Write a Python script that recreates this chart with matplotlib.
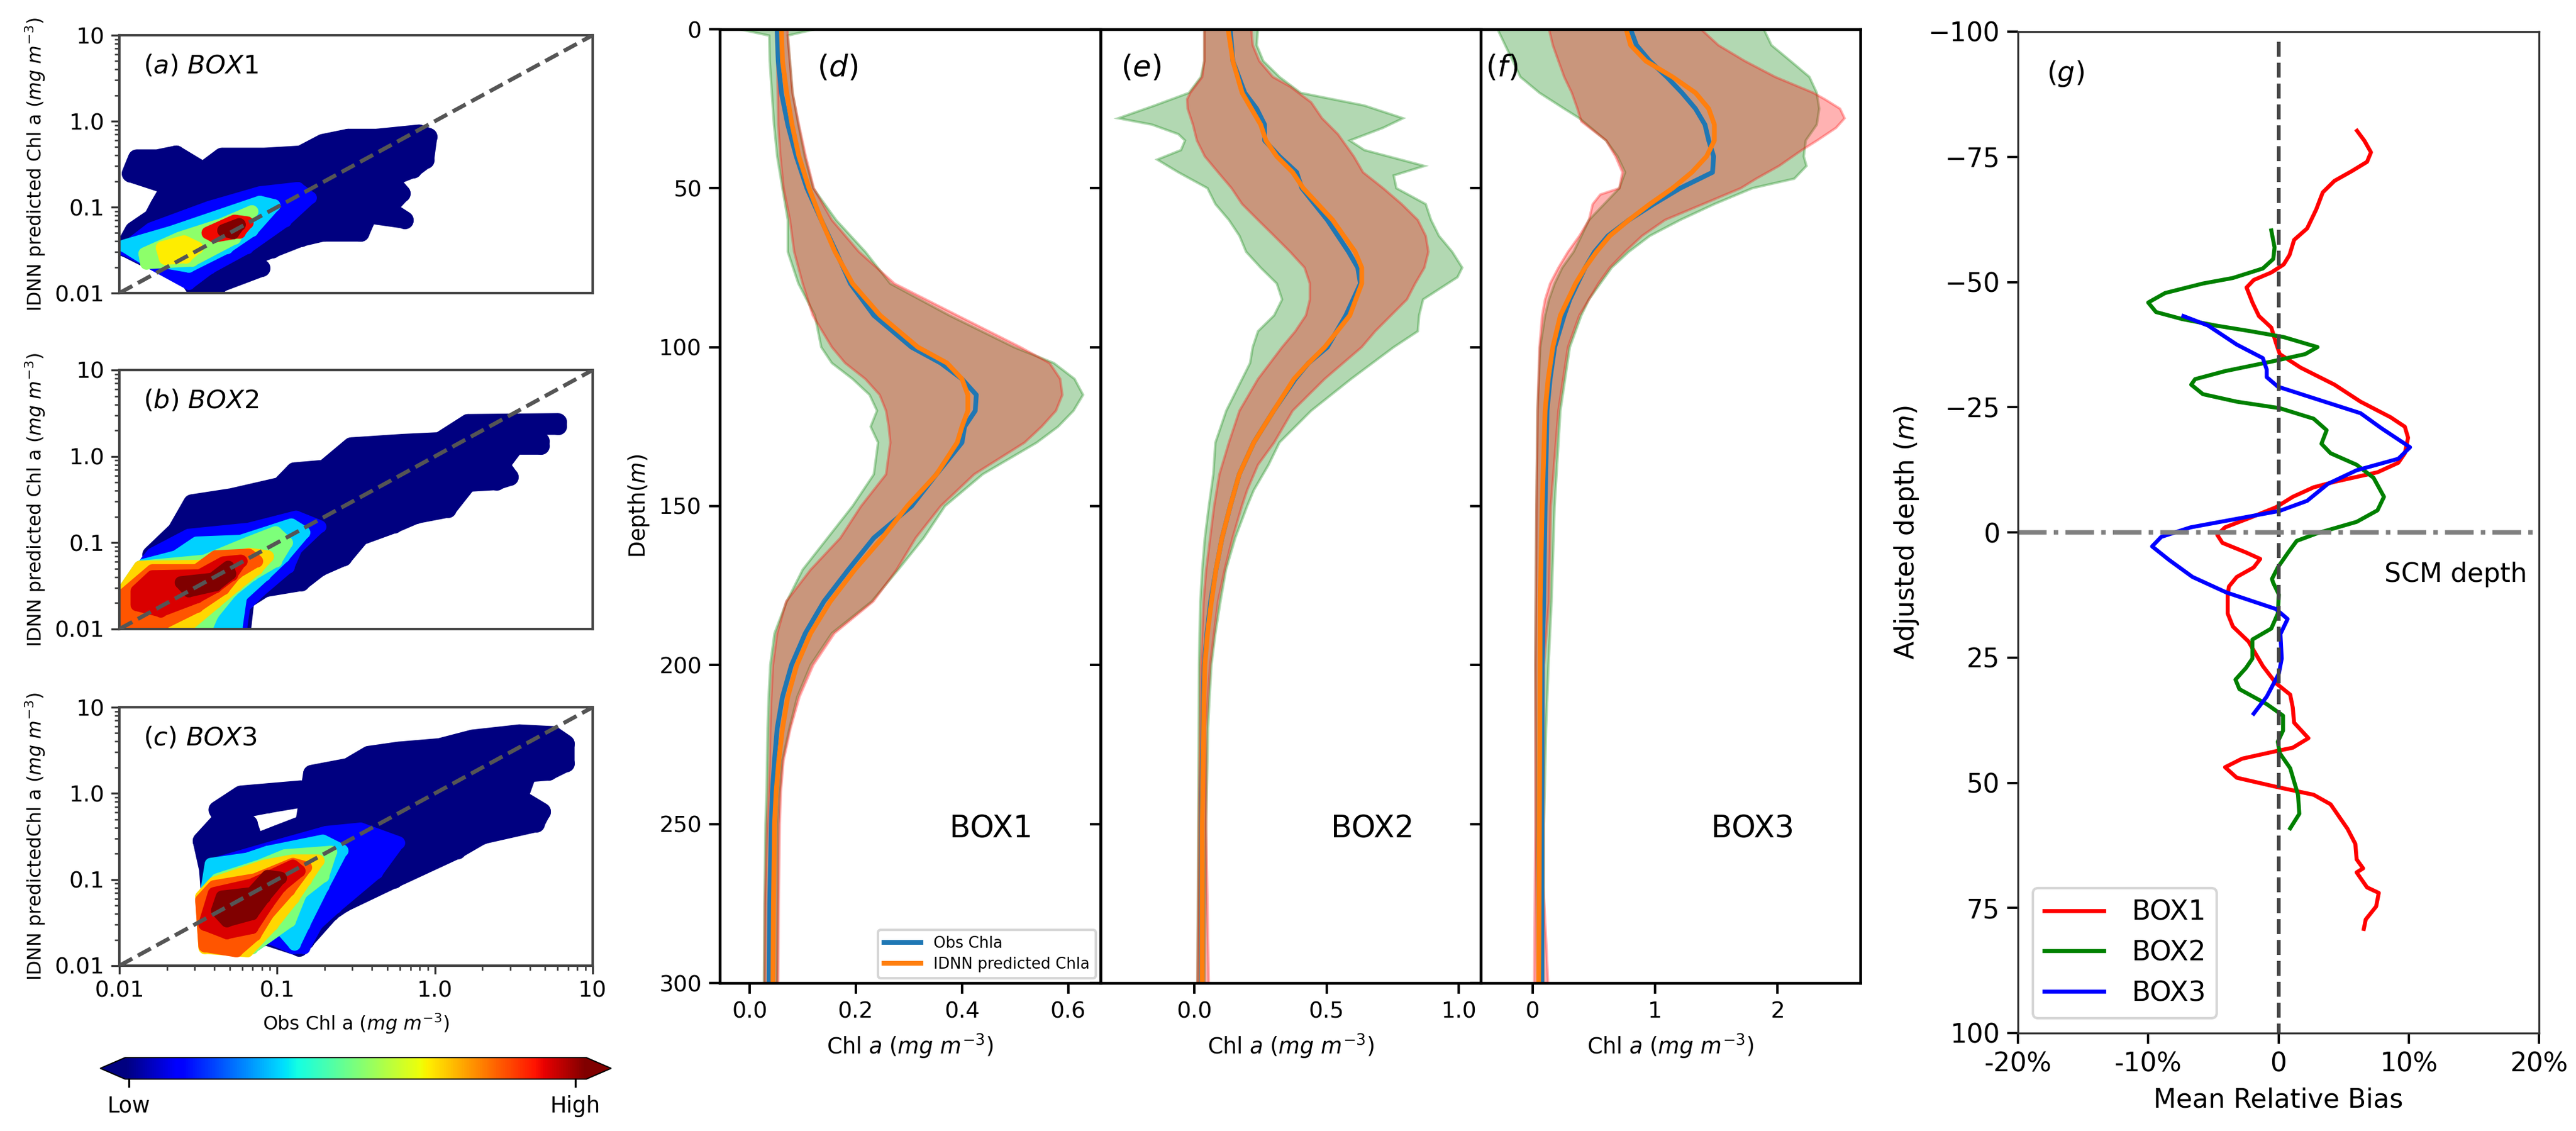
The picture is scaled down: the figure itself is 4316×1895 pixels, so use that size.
import numpy as np
import matplotlib
matplotlib.use('Agg')
import matplotlib.pyplot as plt
from matplotlib.cm import ScalarMappable
from matplotlib.colors import Normalize
from matplotlib.ticker import FixedLocator, FixedFormatter, NullFormatter

W, H = 4316, 1895

# --------------- density scatter, log10(Chl) --------------- #
# every ring is a group of points with one density level (0 low .. 1 high)
box1_levels = [0, 0, 0.12, 0.33, 0.52, 0.66, 0.9, 1.0]
box1_log_obs = [
    [-1.93, -1.89, -1.76, -1.64, -1.50, -1.52, -1.59, -1.35, -1.08, -0.85, -0.71, -0.55, -0.37, -0.10, -0.04, -0.06,
     -0.14, -0.29, -0.21, -0.30, -0.19, -0.42, -0.47, -0.71, -0.85, -1.03, -1.19, -1.48, -1.83, -1.97, -1.91, -1.79,
     -1.75, -1.68],
    [-1.10, -1.36, -1.40, -1.51, -1.55, -1.43],
    [-1.97, -1.80, -1.43, -1.11, -0.87, -0.79, -0.95, -1.19, -1.43, -1.56, -1.85],
    [-1.97, -1.67, -1.43, -1.11, -1.02, -1.16, -1.32, -1.56, -1.84],
    [-1.84, -1.62, -1.35, -1.16, -1.27, -1.54, -1.83],
    [-1.73, -1.59, -1.51, -1.58, -1.71],
    [-1.44, -1.27, -1.19, -1.24, -1.40],
    [-1.34, -1.24, -1.28],
]
box1_log_pred = [
    [-0.61, -0.43, -0.43, -0.385, -0.54, -0.65, -0.74, -0.41, -0.41, -0.385, -0.25, -0.19, -0.19, -0.14, -0.18, -0.45,
     -0.56, -0.67, -0.84, -1.02, -1.15, -1.09, -1.30, -1.30, -1.36, -1.49, -1.60, -1.76, -1.60, -1.47, -1.27, -1.12,
     -0.98, -0.76],
    [-1.71, -1.89, -1.98, -1.98, -1.87, -1.80],
    [-1.49, -1.25, -1.00, -0.83, -0.78, -0.89, -1.16, -1.47, -1.71, -1.89, -1.60],
    [-1.45, -1.29, -1.14, -0.94, -0.98, -1.27, -1.47, -1.69, -1.60],
    [-1.54, -1.36, -1.20, -1.05, -1.36, -1.62, -1.65],
    [-1.47, -1.40, -1.47, -1.58, -1.60],
    [-1.30, -1.16, -1.18, -1.29, -1.34],
    [-1.27, -1.20, -1.30],
]

box2_levels = [0, 0.12, 0.33, 0.5, 0.68, 0.82, 0.92, 1.0]
box2_log_obs = [
    [-1.80, -1.64, -1.54, -1.29, -0.98, -0.89, -0.70, -0.53, -0.20, 0.03, 0.21, 0.78, 0.78, 0.46, 0.67, 0.67, 0.51,
     0.42, 0.475, 0.39, 0.21, 0.08, -0.12, -0.26, -0.47, -0.58, -0.73, -0.85, -1.08, -1.20, -1.22, -1.9, -1.9, -1.78],
    [-1.79, -1.56, -1.18, -0.88, -0.73, -0.88, -0.93, -1.11, -1.21, -1.23, -1.9, -1.9, -1.83],
    [-1.64, -1.51, -1.23, -0.91, -0.83, -0.96, -1.08, -1.23, -1.26, -1.95, -1.95, -1.85],
    [-1.46, -1.18, -1.01, -0.94, -1.01, -1.16, -1.29, -1.41, -1.45, -2.0, -2.0, -1.87],
    [-1.87, -1.49, -1.18, -1.06, -1.13, -1.26, -1.39, -1.56, -2.0, -2.0],
    [-1.79, -1.51, -1.39, -1.18, -1.13, -1.26, -1.34, -1.51, -1.72, -1.97, -1.97],
    [-1.79, -1.49, -1.34, -1.23, -1.29, -1.39, -1.51, -1.74, -1.89, -1.89],
    [-1.61, -1.41, -1.31, -1.30, -1.39, -1.56],
]
box2_log_pred = [
    [-1.14, -0.86, -0.54, -0.47, -0.34, -0.17, -0.14, 0.12, 0.16, 0.18, 0.39, 0.40, 0.35, 0.35, 0.18, 0.12, 0.12,
     -0.10, -0.24, -0.29, -0.31, -0.61, -0.68, -0.79, -0.93, -1.17, -1.29, -1.46, -1.53, -1.67, -2.0, -2.0, -1.50, -1.20],
    [-1.13, -0.91, -0.84, -0.70, -0.81, -1.07, -1.28, -1.56, -1.74, -2.0, -2.0, -1.45, -1.22],
    [-1.16, -1.0, -0.98, -0.79, -0.88, -1.16, -1.37, -1.62, -2.0, -2.0, -1.60, -1.26],
    [-1.21, -1.0, -0.88, -1.0, -1.21, -1.37, -1.56, -1.83, -2.0, -2.0, -1.63, -1.28],
    [-1.28, -1.27, -1.13, -1.16, -1.30, -1.49, -1.69, -1.95, -2.0, -1.63],
    [-1.32, -1.32, -1.16, -1.14, -1.21, -1.35, -1.53, -1.74, -1.93, -1.93, -1.60],
    [-1.39, -1.38, -1.23, -1.21, -1.37, -1.51, -1.63, -1.79, -1.72, -1.56],
    [-1.46, -1.42, -1.28, -1.36, -1.49, -1.56],
]

box3_levels = [0, 0, 0.12, 0.33, 0.5, 0.68, 0.82, 0.92, 1.0]
box3_log_obs = [
    [-1.48, -1.35, -1.18, -1.14, -1.0, -0.83, -0.78, -0.55, -0.42, -0.23, 0.03, 0.24, 0.535, 0.75, 0.83, 0.83, 0.72,
     0.59, 0.535, 0.68, 0.64, 0.30, 0.14, -0.26, -0.58, -0.66, -0.82, -0.86, -1.06, -1.40, -1.42, -1.44],
    [-1.38, -1.23, -0.85, -0.80, -1.06, -1.23, -1.35],
    [-1.40, -1.06, -0.69, -0.47, -0.23, -0.37, -0.63, -0.75, -0.83, -0.90, -1.06, -1.38, -1.42],
    [-1.42, -1.19, -1.06, -0.71, -0.59, -0.71, -0.83, -0.89, -0.98, -1.16, -1.42, -1.46],
    [-1.38, -1.11, -0.95, -0.66, -0.71, -0.85, -0.92, -1.16, -1.44, -1.48],
    [-1.40, -1.08, -0.90, -0.74, -0.82, -0.90, -1.03, -1.19, -1.46, -1.48],
    [-1.40, -1.14, -0.90, -0.82, -0.925, -1.06, -1.14, -1.26, -1.46, -1.48],
    [-1.40, -1.16, -0.90, -0.86, -0.98, -1.06, -1.16, -1.32, -1.46],
    [-1.35, -1.16, -1.06, -0.98, -1.08, -1.16, -1.32, -1.38],
]
box3_log_pred = [
    [-0.55, -0.29, -0.35, -0.57, -0.47, -0.35, 0.23, 0.31, 0.45, 0.50, 0.54, 0.64, 0.70, 0.68, 0.58, 0.35, 0.25,
     0.23, -0.05, -0.21, -0.35, -0.49, -0.66, -1.0, -1.28, -1.38, -1.71, -1.79, -1.67, -1.70, -1.36, -0.88],
    [-0.19, -0.01, 0.05, -0.05, -0.13, -0.19, -0.29],
    [-0.82, -0.64, -0.45, -0.41, -0.57, -0.92, -1.32, -1.52, -1.79, -1.79, -1.67, -1.72, -1.28],
    [-0.82, -0.76, -0.68, -0.55, -0.66, -1.08, -1.52, -1.75, -1.56, -1.79, -1.75, -1.28],
    [-1.0, -0.84, -0.72, -0.68, -0.96, -1.16, -1.48, -1.79, -1.77, -1.24],
    [-1.04, -0.84, -0.78, -0.78, -1.0, -1.22, -1.52, -1.83, -1.79, -1.20],
    [-1.08, -1.0, -0.82, -0.86, -1.12, -1.40, -1.64, -1.83, -1.77, -1.24],
    [-1.16, -1.06, -0.84, -0.90, -1.08, -1.28, -1.56, -1.62, -1.52],
    [-1.20, -1.16, -0.96, -0.98, -1.20, -1.40, -1.48, -1.36],
]

# --------------- profiles, panel d --------------- #
d_depth = [0, 10, 20, 30, 40, 50, 60, 70, 80, 90, 100, 105, 110, 115, 120, 125, 130, 140, 150, 160, 170, 180, 190, 200,
           210, 220, 230, 240, 250, 275, 300]
d_obs = [.052, .054, .060, .072, .088, .108, .135, .163, .19, .234, .305, .36, .40, .427, .425, .405, .40, .352, .305,
         .234, .186, .14, .105, .079, .062, .052, .047, .043, .041, .038, .037]
d_pred = [.060, .062, .070, .08, .093, .112, .135, .161, .194, .246, .317, .372, .40, .411, .411, .40, .391, .352, .297,
          .25, .198, .152, .115, .089, .072, .062, .055, .050, .047, .045, .044]
d_band_depth = [0, 2, 10, 20, 30, 40, 50, 60, 70, 80, 90, 100, 105, 110, 115, 120, 125, 130, 140, 150, 160, 170, 180,
                190, 200, 210, 220, 230, 240, 250, 275, 300]
d_obs_low = [-.019, .037, .038, .042, .046, .052, .062, .072, .072, .092, .123, .135, .155, .194, .226, .24, .228, .242,
             .234, .194, .147, .10, .07, .047, .039, .036, .034, .033, .032, .030, .028, .027]
d_obs_high = [.123, .072, .076, .081, .092, .104, .12, .163, .218, .265, .376, .498, .573, .612, .628, .61, .581, .541,
              .439, .368, .328, .28, .23, .155, .115, .09, .075, .062, .057, .054, .053, .052]
d_pred_low = [.05, .05, .052, .053, .054, .058, .064, .076, .084, .10, .119, .155, .18, .218, .245, .257, .262, .265,
              .257, .21, .171, .115, .069, .052, .044, .041, .039, .038, .036, .033, .029, .028]
d_pred_high = [.072, .072, .076, .081, .093, .106, .121, .155, .206, .273, .391, .51, .565, .585, .589, .577, .55, .518,
               .423, .36, .313, .277, .233, .16, .12, .094, .077, .064, .059, .057, .055, .054]

# --------------- profiles, panel e --------------- #
e_depth = [0, 10, 20, 25, 30, 35, 40, 45, 50, 60, 70, 75, 80, 90, 100, 105, 110, 120, 130, 140, 150, 160, 170, 180, 190,
           200, 210, 250, 300]
e_obs = [.136, .146, .191, .236, .266, .266, .322, .387, .407, .503, .583, .618, .628, .573, .503, .432, .382, .30, .225,
         .17, .136, .105, .082, .062, .048, .038, .035, .028, .028]
e_pred = [.128, .146, .181, .216, .251, .271, .312, .372, .412, .523, .608, .633, .633, .588, .493, .432, .377, .30, .225,
          .17, .136, .105, .082, .065, .05, .04, .037, .03, .03]
e_obs_low_depth = [0, 10, 15, 20, 24, 28, 30, 33, 35, 38, 41, 45, 50, 55, 60, 65, 70, 75, 80, 85, 90, 95, 100, 105, 110,
                   120, 130, 140, 150, 160, 170, 180, 190, 200, 250, 300]
e_obs_low = [.038, .038, .025, -.02, -.15, -.287, -.16, -.06, -.035, -.05, -.14, -.06, .05, .08, .131, .171, .196, .251,
             .312, .332, .302, .241, .221, .211, .181, .121, .08, .072, .055, .04, .03, .023, .02, .018, .015, .012]
e_obs_high_depth = [0, 5, 10, 15, 20, 24, 28, 31, 35, 38, 43, 46, 50, 55, 60, 65, 70, 75, 78, 85, 90, 95, 100, 110, 120,
                    130, 137, 145, 150, 160, 170, 180, 190, 200, 210, 220, 250, 300]
e_obs_high = [.241, .236, .261, .322, .402, .643, .789, .714, .588, .643, .87, .754, .764, .875, .895, .925, .975, 1.013,
              .995, .865, .85, .845, .754, .593, .442, .322, .281, .225, .20, .155, .12, .099, .08, .065, .058, .052, .045, .04]
e_pred_low_depth = [0, 10, 15, 20, 22, 25, 30, 35, 40, 45, 50, 55, 60, 65, 70, 75, 80, 85, 90, 95, 100, 110, 120, 130,
                    140, 150, 160, 170, 180, 200, 250, 300]
e_pred_low = [.038, .038, .03, -.015, -.027, -.025, -.005, .01, .04, .09, .141, .181, .241, .302, .362, .417, .437, .437,
              .422, .382, .332, .241, .171, .131, .095, .075, .06, .045, .035, .025, .017, .012]
e_pred_high_depth = [0, 5, 10, 15, 18, 23, 28, 33, 40, 45, 50, 55, 60, 65, 70, 75, 80, 85, 90, 95, 100, 110, 120, 130,
                     137, 145, 150, 160, 170, 180, 190, 200, 210, 220, 250, 300]
e_pred_high = [.216, .221, .246, .297, .362, .442, .483, .543, .603, .638, .714, .784, .845, .875, .885, .87, .835, .804,
               .744, .684, .633, .493, .372, .302, .241, .20, .18, .145, .115, .09, .075, .06, .052, .045, .045, .055]

# --------------- profiles, panel f --------------- #
f_depth = [0, 5, 10, 15, 20, 25, 30, 35, 40, 45, 50, 55, 60, 65, 70, 75, 80, 85, 90, 100, 110, 120, 150, 180, 200, 250, 300]
f_obs = [.80, .848, .957, 1.096, 1.22, 1.33, 1.407, 1.438, 1.478, 1.469, 1.205, .988, .786, .615, .506, .429, .366, .304,
         .258, .18, .143, .118, .102, .09, .078, .075, .075]
f_pred = [.764, .80, .925, 1.143, 1.33, 1.438, 1.484, 1.484, 1.42, 1.30, 1.143, .957, .786, .63, .522, .429, .351, .289,
          .227, .165, .127, .102, .078, .062, .061, .056, .05]
f_obs_low_depth = [0, 5, 10, 15, 20, 25, 28, 30, 35, 40, 45, 50, 60, 65, 70, 75, 80, 85, 90, 100, 120, 150, 180, 200, 250, 300]
f_obs_low = [-.286, -.224, -.161, -.10, .056, .258, .382, .444, .60, .693, .755, .708, .46, .398, .335, .242, .18, .134,
             .102, .062, .04, .031, .025, .022, .028, .04]
f_obs_high_depth = [0, 5, 10, 15, 20, 25, 30, 35, 40, 43, 47, 50, 55, 60, 65, 70, 75, 80, 85, 90, 100, 120, 150, 180, 200,
                    220, 250, 300]
f_obs_high = [1.888, 1.95, 2.106, 2.26, 2.32, 2.34, 2.32, 2.23, 2.214, 2.236, 2.137, 1.795, 1.484, 1.205, .957, .786, .646,
              .553, .46, .398, .304, .227, .18, .155, .13, .11, .093, .09]
f_pred_low_depth = [0, 5, 10, 15, 20, 25, 29, 35, 40, 45, 50, 52, 55, 60, 65, 70, 75, 80, 85, 90, 100, 120, 150, 180, 200,
                    250, 300]
f_pred_low = [.134, .165, .211, .258, .32, .366, .398, .60, .677, .733, .708, .553, .491, .46, .382, .289, .211, .143, .102,
              .078, .056, .04, .031, .025, .022, .022, .013]
f_pred_high_depth = [0, 5, 10, 15, 20, 22, 25, 28, 31, 35, 38, 43, 47, 50, 55, 60, 65, 70, 75, 80, 85, 90, 100, 120, 150,
                     180, 200, 250, 270, 290, 300]
f_pred_high = [1.376, 1.516, 1.733, 1.981, 2.292, 2.385, 2.51, 2.547, 2.478, 2.323, 2.199, 2.012, 1.826, 1.70, 1.391, 1.081,
               .894, .755, .63, .537, .46, .382, .289, .211, .149, .134, .093, .089, .089, .115, .126]

# --------------- mean relative bias, panel g --------------- #
box1_bias = [6.03, 6.6, 7.1, 6.8, 5.6, 4.3, 3.4, 2.9, 2.2, 1.2, 0.85, 0.4, -0.55, -1.9, -2.45, -2.0, -1.5, -0.55, -0.2,
             0.1, 1.7, 4.3, 6.3, 8.6, 9.7, 9.95, 9.7, 9.2, 7.6, 4.3, 2.7, 1.1, -0.2, -2.2, -4.1, -4.7, -4.3, -2.5, -1.4,
             -1.9, -3.2, -3.8, -3.9, -3.9, -3.5, -2.3, -1.2, -0.2, 0.9, 1.1, 1.2, 2.3, 1.1, -0.2, -2.8, -4.1, -3.2, -0.2,
             2.7, 4.0, 5.3, 5.9, 6.0, 6.5, 6.0, 6.8, 7.7, 7.5, 6.7, 6.55]
box1_adj_depth = [-80.2, -78.2, -75.9, -74, -72.1, -70.2, -67.9, -64.5, -60.7, -58.4, -55.4, -53.5, -51.9, -50.4, -48.9,
                  -45.9, -43.2, -40.9, -37.9, -35.6, -32.9, -29.5, -26.1, -23, -21.1, -18.9, -15.8, -13.9, -12, -10.1,
                  -9, -7.1, -5, -2.9, -1, 0.5, 2.1, 4, 5.3, 7, 8.9, 10.8, 12.4, 16.2, 18.8, 21.8, 26.7, 30.1, 32.4, 35,
                  38, 41.1, 43, 43.7, 45.2, 46.9, 49, 50.8, 52.4, 54.3, 59.2, 62.2, 65.3, 67.1, 67.9, 70.9, 72, 74.7,
                  77.3, 79.2]
box2_bias = [-0.55, -0.3, -0.4, -1.2, -3.5, -5.8, -8.7, -10, -9.4, -7.4, -4.8, -2.2, 0.4, 3.0, 2.05, -0.55, -4.1, -6.4,
             -6.7, -5.8, -3.2, 0.1, 2.7, 3.7, 3.3, 4.0, 6, 7.3, 8.1, 7.6, 6.0, 3.0, 1.4, 0.75, -0.05, -0.5, -0.4, 0.03,
             -0.05, -0.55, -2.0, -2.0, -2.5, -3.3, -3.0, -0.9, 0.35, 0.35, -0.05, 0.1, 0.9, 1.5, 1.6, 0.9]
box2_adj_depth = [-60.3, -56.9, -54.6, -52.7, -50.8, -49.7, -47.8, -45.9, -44, -42.6, -41.3, -40.2, -39, -37, -35.6,
                  -34.1, -32.2, -30.6, -29.5, -27.6, -26.1, -24.8, -22.7, -20.4, -17.7, -15.8, -13.5, -10.9, -7.1, -4.4,
                  -2.1, 0.15, 1.7, 4, 7, 9.3, 10.1, 12.4, 16.2, 19.2, 21.4, 25.2, 27.1, 29.4, 31.3, 34.3, 36.6, 39.6,
                  41.8, 44.1, 47.1, 52.4, 56.2, 59.1]
box3_bias = [-7.3, -5.4, -3.2, -1.2, -0.9, -0.9, -0.05, 2.7, 6.3, 7.9, 10.1, 9.2, 6, 3.8, 2.2, 0.1, -2.8, -6.75, -9, -9.7,
             -8.4, -6.6, -4, -0.2, 0.7, 0.15, 0.25, 0.03, -0.9, -1.9]
box3_adj_depth = [-43.2, -41.3, -37.5, -34.8, -32.5, -31, -29.1, -26.8, -23.8, -20.8, -17, -14.7, -12.4, -9.7, -6.3, -4.3,
                  -2.9, -1, 0.9, 2.8, 5.5, 8.9, 12, 15.3, 17.3, 20.3, 25.2, 28.2, 32.8, 36.2]


def px_rect(left, top, right, bottom):
    return [left / W, 1 - bottom / H, (right - left) / W, (bottom - top) / H]


# --------------- panels a-c --------------- #
def draw_density(ax, levels, log_obs, log_pred, title, ylabel):
    jet = plt.get_cmap('jet')
    for lev, lx, ly in zip(levels, log_obs, log_pred):
        x = 10.0 ** np.array(lx)
        y = 10.0 ** np.array(ly)
        # the stroke closes the gaps between the big round markers
        stroke = 7.0 if lev == 0 else 5.0
        ax.fill(x, y, facecolor=jet(lev), edgecolor=jet(lev), lw=stroke, joinstyle='round', zorder=2)
        ax.scatter(x, y, s=stroke ** 2, color=jet(lev), linewidths=0, zorder=2)
    ax.plot([0.01, 10], [0.01, 10], color='#555555', ls='--', lw=1.6, zorder=5)
    ax.set_xscale('log')
    ax.set_yscale('log')
    ax.set_xlim(0.01, 10)
    ax.set_ylim(0.01, 10)
    ax.yaxis.set_major_locator(FixedLocator([0.01, 0.1, 1, 10]))
    ax.yaxis.set_major_formatter(FixedFormatter(['0.01', '0.1', '1.0', '10']))
    ax.yaxis.set_minor_formatter(NullFormatter())
    ax.tick_params(axis='y', which='major', labelsize=9, length=3.4, width=0.8, color='#333333', pad=2.5)
    ax.tick_params(axis='y', which='minor', length=2, width=0.6, color='#333333')
    for s in ax.spines.values():
        s.set_color('#444444')
        s.set_linewidth(1.0)
    ax.text(0.05, 0.88, title, transform=ax.transAxes, fontsize=10.4, va='center')
    ax.set_ylabel(ylabel, fontsize=7.6, labelpad=3)


ax_a = plt.figure(figsize=(W / 300, H / 300), dpi=300).add_axes(px_rect(200, 59, 993, 491))
fig = ax_a.figure
ax_b = fig.add_axes(px_rect(200, 620, 993, 1054))
ax_c = fig.add_axes(px_rect(200, 1185, 993, 1618))

draw_density(ax_a, box1_levels, box1_log_obs, box1_log_pred, r'$(a)$ $BOX1$', r'IDNN predicted Chl a $(mg\ m^{-3})$')
draw_density(ax_b, box2_levels, box2_log_obs, box2_log_pred, r'$(b)$ $BOX2$', r'IDNN predicted Chl a $(mg\ m^{-3})$')
draw_density(ax_c, box3_levels, box3_log_obs, box3_log_pred, r'$(c)$ $BOX3$', r'IDNN predictedChl a $(mg\ m^{-3})$')
for ax in (ax_a, ax_b):
    ax.tick_params(axis='x', which='both', bottom=False, labelbottom=False)
ax_c.xaxis.set_major_locator(FixedLocator([0.01, 0.1, 1, 10]))
ax_c.xaxis.set_major_formatter(FixedFormatter(['0.01', '0.1', '1.0', '10']))
ax_c.xaxis.set_minor_formatter(NullFormatter())
ax_c.tick_params(axis='x', which='major', labelsize=9, length=3.4, width=0.8, color='#333333', pad=2.5)
ax_c.tick_params(axis='x', which='minor', length=2, width=0.6, color='#333333')
ax_c.set_xlabel(r'Obs Chl a $(mg\ m^{-3})$', fontsize=7.6, labelpad=4)

# colour bar, the axes box takes in the two end triangles
cax = fig.add_axes(px_rect(168, 1772, 1024, 1808))
sm = ScalarMappable(norm=Normalize(0, 1), cmap='jet')
cbar = fig.colorbar(sm, cax=cax, orientation='horizontal', extend='both', extendfrac=0.054, ticks=[0.008, 0.976])
cbar.ax.set_xticklabels(['Low', 'High'], fontsize=8.8)
cbar.ax.tick_params(length=3.4, width=0.8, pad=3)
cbar.outline.set_linewidth(0.5)


# --------------- panels d-f --------------- #
def draw_profile(ax, depth, obs, pred, band_obs, band_pred):
    dl, l, dh, h = band_obs
    ax.fill(np.r_[l, h[::-1]], np.r_[dl, dh[::-1]], color='g', alpha=0.3, lw=1.0)
    dl, l, dh, h = band_pred
    ax.fill(np.r_[l, h[::-1]], np.r_[dl, dh[::-1]], color='r', alpha=0.3, lw=1.0)
    ax.plot(obs, depth, color='#1f77b4', lw=1.9, label='Obs Chla')
    ax.plot(pred, depth, color='#ff7f0e', lw=1.9, label='IDNN predicted Chla')
    ax.set_ylim(300, 0)
    ax.set_yticks([0, 50, 100, 150, 200, 250, 300])
    ax.tick_params(labelsize=9, length=4.3, width=1.0, pad=3)
    ax.set_xlabel(r'Chl $a$ $(mg\ m^{-3})$', fontsize=8.8, labelpad=4)
    for s in ax.spines.values():
        s.set_linewidth(1.1)


ax_d = fig.add_axes(px_rect(1206, 49, 1844, 1647))
ax_e = fig.add_axes(px_rect(1844, 49, 2481, 1647))
ax_f = fig.add_axes(px_rect(2481, 49, 3117, 1647))
draw_profile(ax_d, d_depth, d_obs, d_pred, (d_band_depth, d_obs_low, d_band_depth, d_obs_high),
             (d_band_depth, d_pred_low, d_band_depth, d_pred_high))
draw_profile(ax_e, e_depth, e_obs, e_pred, (e_obs_low_depth, e_obs_low, e_obs_high_depth, e_obs_high),
             (e_pred_low_depth, e_pred_low, e_pred_high_depth, e_pred_high))
draw_profile(ax_f, f_depth, f_obs, f_pred, (f_obs_low_depth, f_obs_low, f_obs_high_depth, f_obs_high),
             (f_pred_low_depth, f_pred_low, f_pred_high_depth, f_pred_high))
ax_d.set_xlim(-0.056, 0.661)
ax_d.set_xticks([0.0, 0.2, 0.4, 0.6])
ax_e.set_xlim(-0.354, 1.083)
ax_e.set_xticks([0.0, 0.5, 1.0])
ax_f.set_xlim(-0.423, 2.676)
ax_f.set_xticks([0, 1, 2])
ax_e.set_yticklabels([])
ax_f.set_yticklabels([])
ax_d.set_ylabel(r'Depth$(m)$', fontsize=8.8, labelpad=3)
ax_d.legend(loc='lower right', fontsize=6.2, borderaxespad=0.3, handlelength=2.4, labelspacing=0.35)

for ax, label, xp in ((ax_d, r'$(d)$', 1403), (ax_e, r'$(e)$', 1912), (ax_f, r'$(f)$', 2516)):
    ax.text(xp, H - 113, label, fontsize=12, ha='center', va='center', transform=None)
for ax, name, xp in ((ax_d, 'BOX1', 1661), (ax_e, 'BOX2', 2300), (ax_f, 'BOX3', 2937)):
    ax.text(xp, H - 1390, name, fontsize=12.3, ha='center', va='center', transform=None)

# --------------- panel g --------------- #
ax_g = fig.add_axes(px_rect(3381, 53, 4254, 1731))
ax_g.plot(box1_bias, box1_adj_depth, color='r', lw=1.6, label='BOX1')
ax_g.plot(box2_bias, box2_adj_depth, color='g', lw=1.6, label='BOX2')
ax_g.plot(box3_bias, box3_adj_depth, color='b', lw=1.6, label='BOX3')
ax_g.plot([0, 0], [-98, 100], color='#444444', lw=1.5, dashes=(4, 1.6))
ax_g.plot([-20, 19.6], [0, 0], color='gray', ls='-.', lw=1.8)
ax_g.set_xlim(-20, 20)
ax_g.set_ylim(100, -100)
ax_g.set_xticks([-20, -10, 0, 10, 20])
ax_g.set_xticklabels(['-20%', '-10%', '0', '10%', '20%'])
ax_g.set_yticks([-100, -75, -50, -25, 0, 25, 50, 75, 100])
ax_g.tick_params(labelsize=10.5, length=4.3, width=0.9, pad=3)
ax_g.set_xlabel('Mean Relative Bias', fontsize=10.6, labelpad=4)
ax_g.set_ylabel(r'Adjusted depth $(m)$', fontsize=10.6, labelpad=3)
ax_g.text(3460, H - 123, r'$(g)$', fontsize=11, ha='center', va='center', transform=None)
ax_g.text(4115, H - 962, 'SCM depth', fontsize=10.6, ha='center', va='center', transform=None)
ax_g.legend(loc='lower left', fontsize=11, borderaxespad=0.55, handlelength=2.2, handletextpad=1.0)
for s in ax_g.spines.values():
    s.set_color('#333333')

fig.savefig('out.png', dpi=300)
